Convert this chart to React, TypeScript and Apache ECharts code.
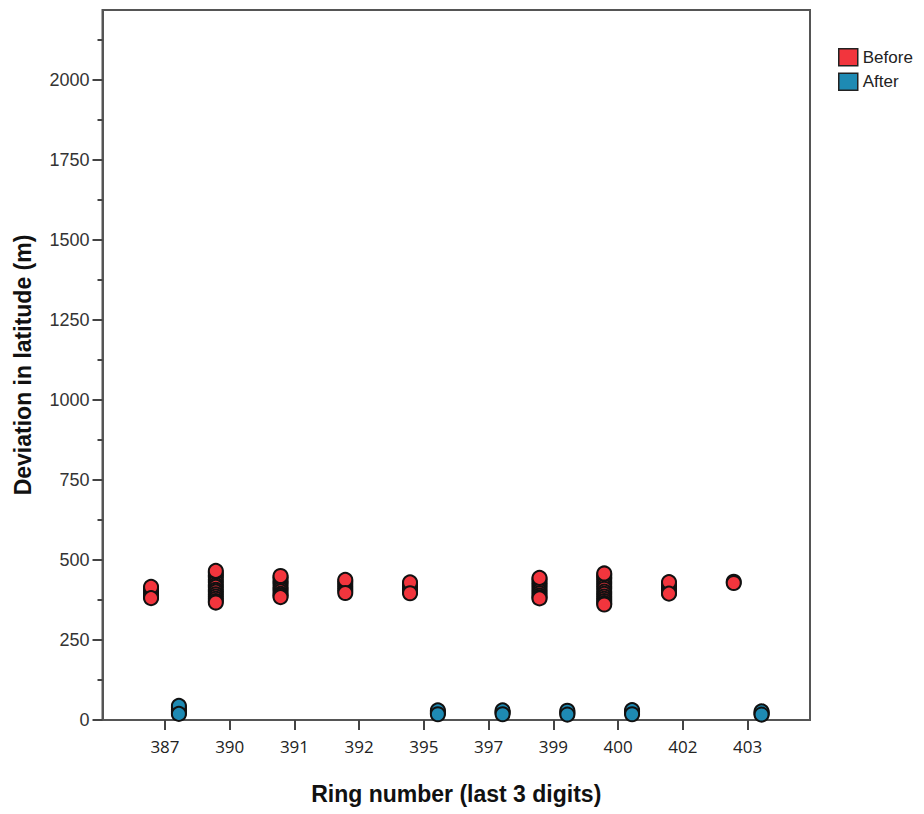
import React, { useEffect, useRef } from "react";
import * as echarts from "echarts";

// Ring numbers (last 3 digits) along the x axis
const rings = ["387", "390", "391", "392", "395", "397", "399", "400", "402", "403"];

// Deviation in latitude (m) for each ring, before correction
const beforeByRing: number[][] = [
  [416, 411, 403, 397, 390, 384, 381],
  [466, 460, 452, 447, 438, 431, 422, 416, 407, 401, 393, 386, 379, 372, 367],
  [450, 446, 439, 431, 425, 416, 409, 402, 394, 389, 384],
  [438, 433, 426, 418, 411, 404, 397],
  [430, 426, 419, 412, 406, 400, 396],
  [],
  [444, 441, 433, 426, 419, 411, 403, 396, 389, 383, 380],
  [458, 453, 446, 441, 432, 425, 417, 410, 401, 394, 386, 379, 372, 365, 361],
  [431, 426, 419, 412, 405, 398, 395],
  [432, 428],
];

// Deviation in latitude (m) for each ring, after correction
const afterByRing: number[][] = [
  [44, 39, 33, 27, 22, 19],
  [],
  [],
  [],
  [30, 26, 21, 18],
  [30, 26, 22, 18],
  [29, 25, 20, 17],
  [31, 27, 22, 18],
  [],
  [27, 23, 19, 17],
];

// Y axis tick values
const yMajorTicks = [0, 250, 500, 750, 1000, 1250, 1500, 1750, 2000];
const yMinorTicks = [125, 375, 625, 875, 1125, 1375, 1625, 1875, 2125];

const RED = "#F2353D";
const BLUE = "#1E8AB3";
const FRAME = "#555555";

export default function App() {
  const ref = useRef<HTMLDivElement>(null);

  useEffect(() => {
    if (!ref.current) return;
    const chart = echarts.init(ref.current, null, { renderer: "svg" });

    // each group sits a little left (Before) or right (After) of its ring tick;
    // the inner points are painted first so the highest and lowest stay on top
    const shift = 0.215;
    const toPoints = (groups: number[][], dx: number) =>
      groups.flatMap((vals, i) => {
        if (vals.length < 3) return vals.map((v) => [i + dx, v]);
        const inner = vals.slice(1, -1);
        const ordered = [...inner, vals[0], vals[vals.length - 1]];
        return ordered.map((v) => [i + dx, v]);
      });

    const gridBox = { left: 102.5, top: 10, width: 707.5, height: 710 };
    const titleFont = { fontFamily: "Liberation Sans", fontWeight: "bold", fontSize: 23, color: "#111" };

    chart.setOption({
      animation: false,
      backgroundColor: "#ffffff",
      grid: [
        { ...gridBox, show: true, borderColor: FRAME, borderWidth: 2, outerBoundsMode: "none" },
        { ...gridBox, show: false, outerBoundsMode: "none" },
      ],
      legend: {
        orient: "vertical",
        left: 838,
        top: 48,
        itemWidth: 19,
        itemHeight: 17,
        itemGap: 6,
        itemTextGap: 5,
        padding: 0,
        icon: "rect",
        itemStyle: { borderColor: "#222", borderWidth: 1.5 },
        textStyle: { fontFamily: "Liberation Sans", fontSize: 17, color: "#222" },
        data: ["Before", "After"],
      },
      xAxis: [
        {
          type: "value",
          gridIndex: 0,
          min: -0.965,
          max: 9.963,
          splitLine: { show: false },
          axisLine: { show: true, onZero: false, lineStyle: { color: FRAME, width: 2 } },
          axisTick: {
            show: true,
            customValues: rings.map((_, i) => i),
            length: 10,
            lineStyle: { color: "#444", width: 2 },
          },
          axisLabel: {
            customValues: rings.map((_, i) => i),
            formatter: (v: number) => rings[Math.round(v)] ?? "",
            fontFamily: "Open Sans",
            fontSize: 17,
            color: "#222",
            margin: 18,
          },
          name: "Ring number (last 3 digits)",
          nameLocation: "middle",
          nameGap: 62,
          nameTextStyle: titleFont,
        },
        { type: "value", gridIndex: 1, min: -0.965, max: 9.963, show: false },
      ],
      yAxis: [
        {
          type: "value",
          gridIndex: 0,
          min: 0,
          max: 2218.75,
          splitLine: { show: false },
          axisLine: { show: true, onZero: false, lineStyle: { color: FRAME, width: 2 } },
          axisTick: {
            show: true,
            customValues: yMajorTicks,
            length: 10,
            lineStyle: { color: "#444", width: 2 },
          },
          axisLabel: {
            customValues: yMajorTicks,
            formatter: (v: number) => String(v),
            fontFamily: "Liberation Sans",
            fontSize: 18,
            color: "#333",
            margin: 13,
          },
          name: "Deviation in latitude (m)",
          nameLocation: "middle",
          nameGap: 68,
          nameTextStyle: titleFont,
        },
        {
          type: "value",
          gridIndex: 1,
          min: 0,
          max: 2218.75,
          splitLine: { show: false },
          axisLine: { show: false, onZero: false },
          axisLabel: { show: false },
          axisTick: {
            show: true,
            customValues: yMinorTicks,
            length: 5,
            lineStyle: { color: "#444", width: 2 },
          },
        },
      ],
      series: [
        {
          name: "Before",
          type: "scatter",
          xAxisIndex: 0,
          yAxisIndex: 0,
          symbol: "circle",
          symbolSize: 14,
          itemStyle: { color: RED, borderColor: "#111", borderWidth: 2, opacity: 1 },
          data: toPoints(beforeByRing, -shift),
        },
        {
          name: "After",
          type: "scatter",
          xAxisIndex: 0,
          yAxisIndex: 0,
          symbol: "circle",
          symbolSize: 14,
          itemStyle: { color: BLUE, borderColor: "#111", borderWidth: 2, opacity: 1 },
          data: toPoints(afterByRing, shift),
        },
      ],
    });

    return () => chart.dispose();
  }, []);

  return (
    <div
      ref={ref}
      style={{ position: "fixed", left: 0, top: 0, width: 924, height: 814, background: "#fff" }}
    />
  );
}
